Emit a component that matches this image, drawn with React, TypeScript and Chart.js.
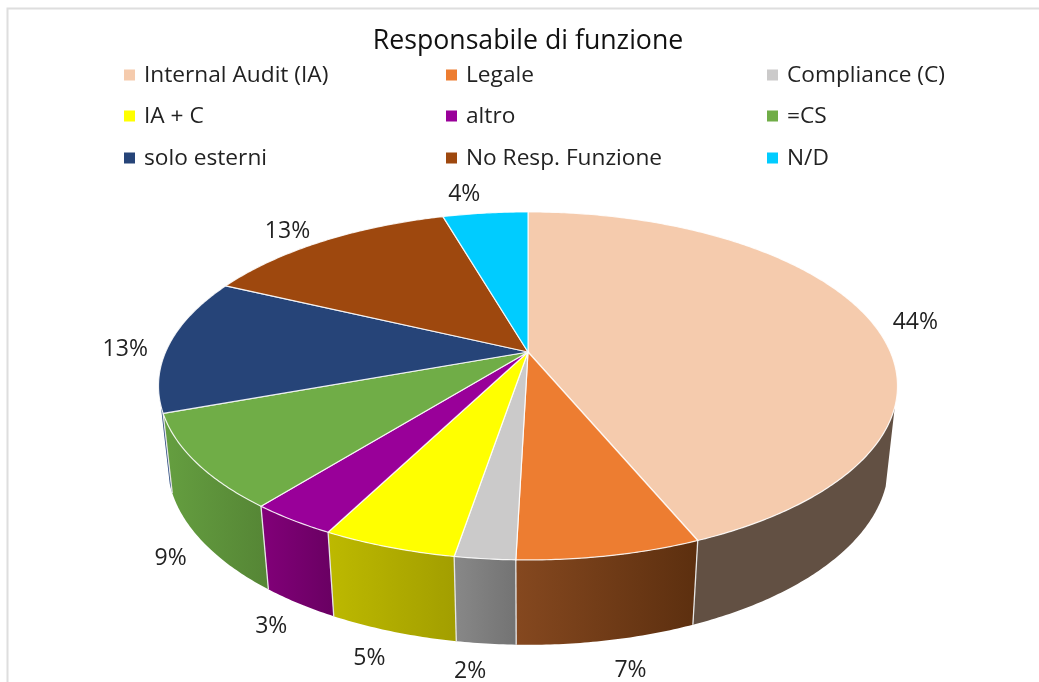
import React, { useEffect, useRef } from "react";
import { Chart, registerables } from "chart.js";

Chart.register(...registerables);

const categories = ["Internal Audit (IA)", "Legale", "Compliance (C)", "IA + C", "altro", "=CS", "solo esterni", "No Resp. Funzione", "N/D"];
const shares = [43.7, 6.7, 2.2, 4.9, 3.2, 8.7, 12.6, 13.45, 4.49];
const topColors = ["#F5CBAD", "#ED7D31", "#CBCACA", "#FFFF00", "#990099", "#70AD47", "#264478", "#9E480E", "#00CCFF"];
const wallLeft = ["#625043", "#85481F", "#888888", "#BDB900", "#820079", "#659F40", "#2A4A80", "#6A3009", "#008AAD"];
const wallRight = ["#625043", "#5C2F0F", "#737373", "#A29E00", "#690062", "#558535", "#2A4A80", "#6A3009", "#008AAD"];
const labelOffsets: [number, number][] = [[45, 2], [23, 30], [-16, 28], [-23, 27], [-28, 23], [-34, 15], [-44, 5], [-36, -10], [-21, -19]];

const FONT = "'Open Sans', sans-serif";
const TEXT = "#222222";
const upper = { cx: 528, y0: 352, r: 362.4, b: 167.4, k: 0.195 };
const lower = { cx: 528, y0: 429, r: 354, b: 174.8, k: 0.19 };
const VIS_A = (108 * Math.PI) / 180;
const VIS_B = (252.7 * Math.PI) / 180;

type Disc = typeof upper;
const project = (d: Disc, t: number, f = 1): [number, number] => {
  const u = Math.sin(t) * f;
  const v = Math.cos(t) * f;
  const w = 1 + d.k * v;
  return [d.cx + (d.r * u) / w, d.y0 - (d.b * v) / w];
};
const sample = (a: number, b: number) => {
  const n = Math.max(2, Math.ceil(Math.abs(b - a) / 0.01));
  const out: number[] = [];
  for (let i = 0; i <= n; i++) out.push(a + ((b - a) * i) / n);
  return out;
};

const pie3d = {
  id: "pie3d",
  beforeDraw(chart: any) {
    const { ctx, width, height } = chart;
    ctx.save();
    ctx.fillStyle = "#FFFFFF";
    ctx.fillRect(0, 0, width, height);
    ctx.strokeStyle = "#DEDEDE";
    ctx.lineWidth = 2;
    ctx.beginPath();
    ctx.moveTo(7.5, height);
    ctx.lineTo(7.5, 8.5);
    ctx.lineTo(width, 8.5);
    ctx.stroke();
    ctx.restore();
  },
  beforeDatasetsDraw(chart: any) {
    const { ctx } = chart;
    const arcs = chart.getDatasetMeta(0).data;
    const angle = (x: number) => x + Math.PI / 2;
    ctx.save();
    ctx.lineJoin = "round";
    // side walls
    arcs.forEach((arc: any, i: number) => {
      const a = Math.max(angle(arc.startAngle), VIS_A);
      const b = Math.min(angle(arc.endAngle), VIS_B);
      if (b <= a) return;
      const ts = sample(a, b);
      const top = ts.map((t) => project(upper, t));
      const bot = ts.map((t) => project(lower, t)).reverse();
      const pts = [...top, ...bot];
      const xs = pts.map((p) => p[0]);
      const x0 = Math.min(...xs);
      const x1 = Math.max(...xs);
      const g = ctx.createLinearGradient(x0, 0, x1, 0);
      g.addColorStop(0, wallLeft[i]);
      g.addColorStop(1, wallRight[i]);
      ctx.fillStyle = g;
      ctx.beginPath();
      pts.forEach((p, j) => (j ? ctx.lineTo(p[0], p[1]) : ctx.moveTo(p[0], p[1])));
      ctx.closePath();
      ctx.fill();
    });
    arcs.forEach((arc: any) => {
      const t = angle(arc.endAngle);
      if (t <= VIS_A || t >= VIS_B) return;
      const p = project(upper, t);
      const q = project(lower, t);
      ctx.strokeStyle = "#E6E6E6";
      ctx.lineWidth = 1.3;
      ctx.beginPath();
      ctx.moveTo(p[0], p[1]);
      ctx.lineTo(q[0], q[1]);
      ctx.stroke();
    });
    // top face
    arcs.forEach((arc: any, i: number) => {
      const ts = sample(angle(arc.startAngle), angle(arc.endAngle));
      const centre = project(upper, 0, 0);
      ctx.beginPath();
      ctx.moveTo(centre[0], centre[1]);
      ts.forEach((t) => {
        const p = project(upper, t);
        ctx.lineTo(p[0], p[1]);
      });
      ctx.closePath();
      ctx.fillStyle = topColors[i];
      ctx.fill();
      ctx.strokeStyle = "rgba(255,255,255,0.85)";
      ctx.lineWidth = 1.2;
      ctx.stroke();
    });
    // slice labels
    const values = chart.data.datasets[0].data as number[];
    const total = values.reduce((s, x) => s + x, 0);
    ctx.fillStyle = TEXT;
    ctx.font = `23px ${FONT}`;
    ctx.textAlign = "center";
    ctx.textBaseline = "middle";
    arcs.forEach((arc: any, i: number) => {
      const t = angle((arc.startAngle + arc.endAngle) / 2);
      const rim = project(t > VIS_A && t < VIS_B ? lower : upper, t);
      ctx.fillText(`${Math.round((values[i] / total) * 100)}%`, rim[0] + labelOffsets[i][0], rim[1] + labelOffsets[i][1]);
    });
    // legend
    const colX = [124, 446, 767];
    const rowY = [75, 116, 158];
    ctx.textAlign = "left";
    ctx.font = `22.7px ${FONT}`;
    categories.forEach((name, i) => {
      const x = colX[i % 3];
      const y = rowY[Math.floor(i / 3)];
      ctx.fillStyle = topColors[i];
      ctx.fillRect(x, y - 5.5, 11, 11);
      ctx.fillStyle = TEXT;
      ctx.fillText(name, x + 20, y + 1);
    });
    ctx.restore();
    return false;
  },
};

export default function App() {
  const ref = useRef<HTMLCanvasElement>(null);
  useEffect(() => {
    document.body.style.margin = "0";
    const chart = new Chart(ref.current!, {
      type: "pie",
      data: {
        labels: categories,
        datasets: [{ data: shares, backgroundColor: topColors }],
      },
      options: {
        responsive: false,
        animation: false,
        layout: { padding: { left: 17 } },
        plugins: {
          legend: { display: false },
          tooltip: { enabled: false },
          title: {
            display: true,
            text: "Responsabile di funzione",
            color: "#111111",
            font: { family: FONT, size: 26.7, weight: "normal" },
            padding: { top: 25, bottom: 0 },
          },
        },
      },
      plugins: [pie3d],
    } as any);
    return () => chart.destroy();
  }, []);
  return <canvas ref={ref} width={1039} height={682} style={{ display: "block" }} />;
}
